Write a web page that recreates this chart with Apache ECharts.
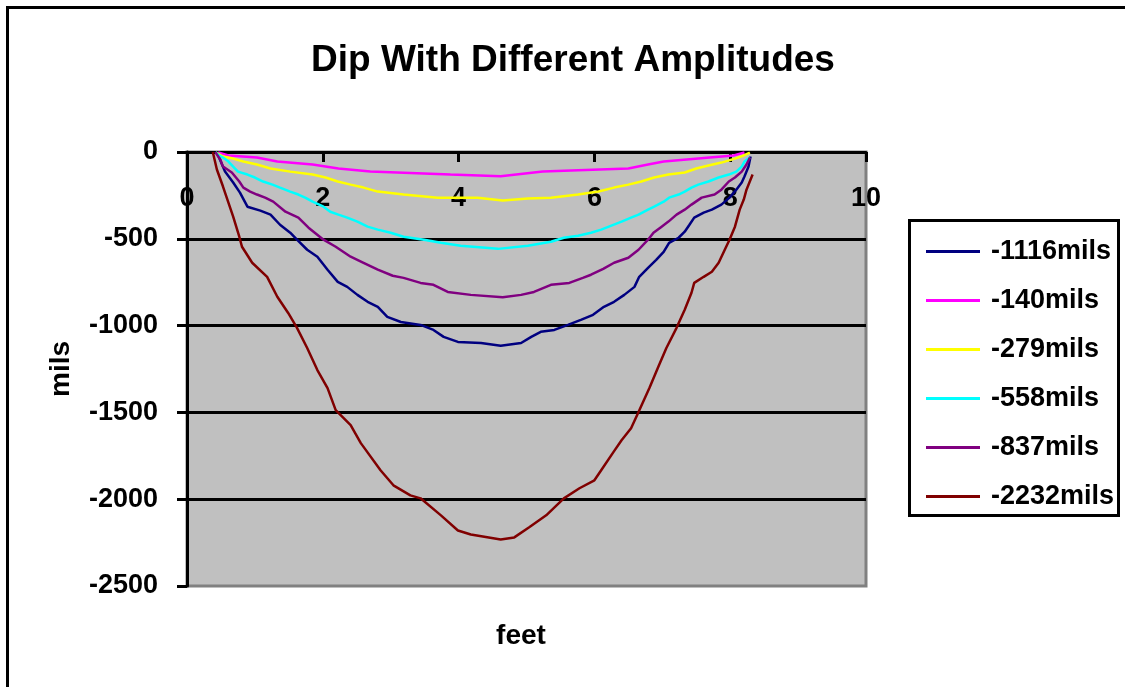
<!DOCTYPE html>
<html>
<head>
<meta charset="utf-8">
<title>Dip With Different Amplitudes</title>
<script src="https://cdn.jsdelivr.net/npm/echarts@6/dist/echarts.min.js"></script>
<style>
  html, body { margin: 0; padding: 0; background: #ffffff; }
  #chart { width: 1125px; height: 687px; }
</style>
</head>
<body>
<div id="chart"></div>
<script>
// Dip profiles: [feet, mils] pairs for each amplitude
const dip1116 = [[0.42,0],[0.46,-20],[0.56,-113],[0.68,-176],[0.78,-234],[0.89,-315],[1.08,-338],[1.23,-361],[1.37,-419],[1.52,-465],[1.62,-505],[1.77,-563],[1.92,-603],[2.07,-678],[2.22,-748],[2.36,-777],[2.51,-823],[2.66,-863],[2.81,-892],[2.95,-950],[3.15,-979],[3.44,-996],[3.63,-1025],[3.78,-1065],[3.99,-1094],[4.33,-1100],[4.62,-1116],[4.92,-1100],[5.07,-1065],[5.21,-1036],[5.41,-1025],[5.61,-996],[5.80,-967],[5.98,-938],[6.14,-892],[6.29,-863],[6.44,-823],[6.59,-777],[6.66,-719],[6.79,-667],[6.91,-621],[7.02,-575],[7.10,-523],[7.24,-494],[7.33,-459],[7.40,-419],[7.47,-378],[7.61,-349],[7.73,-332],[7.87,-303],[7.99,-263],[8.09,-217],[8.17,-176],[8.21,-141],[8.27,-84],[8.30,-26]];
const dip140 = [[0.46,-3],[0.61,-20],[1.03,-32],[1.33,-55],[1.85,-72],[2.23,-95],[2.70,-113],[3.88,-130],[4.62,-140],[5.24,-113],[6.50,-95],[6.79,-72],[7.02,-55],[7.70,-32],[8.05,-20],[8.21,-3]];
const dip279 = [[0.43,-3],[0.53,-26],[0.68,-38],[0.83,-55],[1.03,-72],[1.23,-95],[1.52,-113],[1.85,-130],[2.04,-147],[2.22,-170],[2.41,-188],[2.60,-205],[2.81,-228],[3.19,-245],[3.69,-263],[4.28,-263],[4.65,-279],[5.02,-268],[5.36,-263],[5.76,-245],[6.06,-228],[6.29,-205],[6.50,-188],[6.69,-170],[6.88,-147],[7.09,-130],[7.33,-118],[7.50,-95],[7.68,-78],[7.87,-61],[8.07,-38],[8.20,-20],[8.29,-3]];
const dip558 = [[0.42,0],[0.47,-20],[0.53,-32],[0.61,-55],[0.68,-84],[0.75,-113],[0.89,-130],[1.00,-147],[1.12,-170],[1.26,-188],[1.37,-205],[1.52,-228],[1.64,-245],[1.74,-263],[1.85,-286],[2.01,-315],[2.11,-344],[2.23,-361],[2.36,-378],[2.51,-401],[2.66,-430],[2.81,-447],[3.00,-465],[3.19,-488],[3.49,-505],[3.74,-523],[4.03,-540],[4.58,-558],[5.02,-540],[5.36,-517],[5.55,-494],[5.76,-482],[5.95,-465],[6.10,-447],[6.25,-424],[6.40,-401],[6.54,-378],[6.65,-361],[6.79,-332],[6.88,-315],[7.02,-286],[7.10,-263],[7.24,-245],[7.33,-228],[7.43,-205],[7.53,-188],[7.68,-170],[7.83,-147],[7.98,-130],[8.09,-113],[8.17,-84],[8.21,-55],[8.29,-32]];
const dip837 = [[0.42,0],[0.44,-14],[0.49,-43],[0.53,-84],[0.66,-118],[0.77,-170],[0.83,-205],[0.93,-228],[1.03,-245],[1.15,-263],[1.27,-286],[1.45,-344],[1.64,-378],[1.79,-436],[2.01,-505],[2.19,-546],[2.41,-603],[2.60,-638],[2.81,-678],[3.03,-713],[3.19,-725],[3.44,-754],[3.63,-765],[3.84,-806],[4.18,-823],[4.65,-837],[4.92,-823],[5.11,-806],[5.36,-765],[5.63,-754],[5.83,-725],[5.95,-707],[6.13,-673],[6.29,-638],[6.50,-609],[6.65,-563],[6.79,-505],[6.87,-465],[6.99,-430],[7.09,-401],[7.21,-361],[7.33,-332],[7.43,-303],[7.58,-263],[7.77,-245],[7.87,-217],[7.98,-170],[8.07,-147],[8.17,-113],[8.24,-72],[8.29,-32]];
const dip2232 = [[0.38,0],[0.44,-101],[0.53,-199],[0.68,-372],[0.77,-488],[0.81,-546],[0.96,-638],[1.18,-719],[1.33,-834],[1.49,-927],[1.62,-1013],[1.77,-1129],[1.92,-1256],[2.07,-1360],[2.19,-1487],[2.41,-1573],[2.56,-1677],[2.85,-1833],[3.04,-1920],[3.29,-1978],[3.44,-1995],[3.74,-2093],[3.99,-2180],[4.18,-2203],[4.62,-2232],[4.82,-2220],[5.04,-2162],[5.29,-2093],[5.55,-1995],[5.78,-1937],[6.00,-1891],[6.10,-1833],[6.28,-1729],[6.40,-1660],[6.54,-1591],[6.65,-1498],[6.81,-1360],[6.94,-1238],[7.06,-1129],[7.21,-1013],[7.33,-909],[7.43,-811],[7.47,-754],[7.61,-719],[7.73,-690],[7.83,-638],[7.92,-563],[7.99,-505],[8.07,-430],[8.14,-332],[8.20,-274],[8.24,-217],[8.33,-130]];

const seriesNames = ['-1116mils', '-140mils', '-279mils', '-558mils', '-837mils', '-2232mils'];
const seriesData = [dip1116, dip140, dip279, dip558, dip837, dip2232];
const seriesColors = ['#000080', '#ff00ff', '#ffff00', '#00ffff', '#800080', '#800000'];

const FONT = '"Liberation Sans", Arial, sans-serif';

const chart = echarts.init(document.getElementById('chart'), null, { renderer: 'canvas' });

chart.setOption({
  animation: false,
  backgroundColor: '#ffffff',
  title: {
    text: 'Dip With Different Amplitudes',
    left: 568,
    top: 37,
    textAlign: 'center',
    textStyle: { fontFamily: FONT, fontSize: 37, fontWeight: 'bold', color: '#000' }
  },
  legend: {
    orient: 'vertical',
    left: 921,
    top: 222,
    icon: 'rect',
    itemWidth: 54,
    itemHeight: 3,
    itemGap: 0,
    itemStyle: { borderWidth: 0 },
    textStyle: { fontFamily: FONT, fontSize: 27, fontWeight: 'bold', color: '#000', lineHeight: 49, padding: [0, 0, 0, 6] },
    data: seriesNames
  },
  grid: {
    left: 187,
    top: 152,
    right: 259,
    bottom: 101,
    show: true,
    backgroundColor: '#c0c0c0',
    borderColor: '#808080',
    borderWidth: 3
  },
  xAxis: {
    type: 'value',
    position: 'top',
    min: 0,
    max: 10,
    interval: 2,
    axisLine: { show: true, onZero: false, lineStyle: { color: '#000', width: 3 } },
    axisTick: { show: true, inside: true, length: 10, lineStyle: { color: '#000', width: 3 } },
    axisLabel: { inside: true, margin: 33, fontFamily: FONT, fontSize: 27, fontWeight: 'bold', color: '#000' },
    splitLine: { show: false }
  },
  yAxis: {
    type: 'value',
    min: -2500,
    max: 0,
    interval: 500,
    name: 'mils',
    nameLocation: 'middle',
    nameRotate: 90,
    nameGap: 112,
    nameTextStyle: { fontFamily: FONT, fontSize: 28, fontWeight: 'bold', color: '#000' },
    axisLine: { show: true, onZero: false, lineStyle: { color: '#000', width: 3 } },
    axisTick: { show: true, length: 10, lineStyle: { color: '#000', width: 3 } },
    axisLabel: {
      margin: 29,
      fontFamily: FONT,
      fontSize: 27,
      fontWeight: 'bold',
      color: '#000',
      formatter: (v) => String(v)
    },
    splitLine: { show: true, showMinLine: false, lineStyle: { color: '#000', width: 3 } }
  },
  graphic: [
    {
      type: 'rect',
      z: -10,
      shape: { x: 7.5, y: 7.5, width: 1140, height: 700 },
      style: { fill: null, stroke: '#000', lineWidth: 3 }
    },
    {
      type: 'rect',
      z: 10,
      shape: { x: 909.5, y: 220.5, width: 209, height: 295 },
      style: { fill: null, stroke: '#000', lineWidth: 3 }
    },
    {
      type: 'text',
      x: 521,
      y: 636,
      style: {
        text: 'feet',
        align: 'center',
        verticalAlign: 'middle',
        font: 'bold 28px ' + FONT,
        fill: '#000'
      }
    }
  ],
  series: seriesNames.map((name, i) => ({
    name: name,
    type: 'line',
    data: seriesData[i],
    showSymbol: false,
    symbol: 'none',
    color: seriesColors[i],
    lineStyle: { color: seriesColors[i], width: 2.5 },
    emphasis: { disabled: true }
  }))
});
</script>
</body>
</html>
